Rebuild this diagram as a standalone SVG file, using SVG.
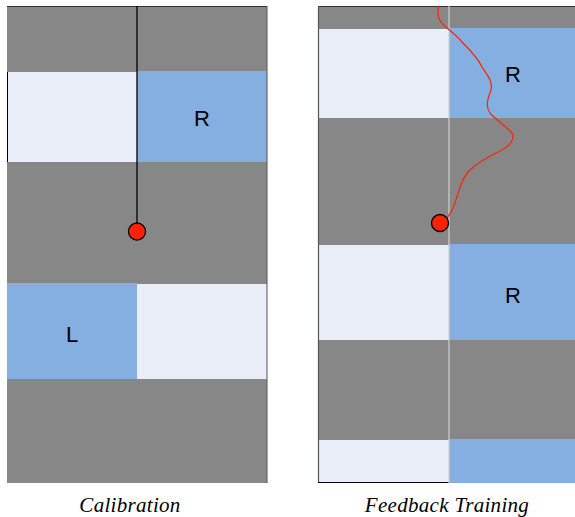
<svg xmlns="http://www.w3.org/2000/svg" width="575" height="517" viewBox="0 0 575 517">
  <style>
    .dark { fill: #878787; }
    .light { fill: #E9EEF8; }
    .blue { fill: #84AFE0; }
    .lbl { font-family: "Liberation Sans", Arial, sans-serif; font-size: 22px; fill: #000; text-anchor: middle; }
    .cap { font-family: "Liberation Serif", "Times New Roman", serif; font-style: italic; font-size: 21px; letter-spacing: 0.3px; fill: #000; text-anchor: middle; }
    .dot { fill: #FF2200; stroke: #000; stroke-width: 1.3; }
  </style>

  <!-- Calibration panel -->
  <g id="calibration">
    <rect class="dark" x="7" y="6" width="260" height="66"/>
    <rect class="light" x="7" y="72" width="130" height="90"/>
    <rect class="blue" x="137" y="71" width="130" height="91"/>
    <rect class="dark" x="7" y="162" width="260" height="122"/>
    <rect class="blue" x="7" y="283" width="130" height="96"/>
    <rect class="light" x="137" y="284" width="130" height="95"/>
    <rect class="dark" x="7" y="379" width="260" height="104"/>
    <line x1="7" y1="6.5" x2="267" y2="6.5" stroke="#333" stroke-width="1"/>
    <line x1="267" y1="6" x2="267" y2="483" stroke="#555" stroke-width="1"/>
    <line x1="7.5" y1="72" x2="7.5" y2="162" stroke="#000" stroke-width="1"/>
    <text class="lbl" x="202" y="126">R</text>
    <text class="lbl" x="72" y="342">L</text>
    <line x1="137" y1="6" x2="137" y2="231" stroke="#000" stroke-width="1.3"/>
    <circle class="dot" cx="137" cy="231.5" r="8.5"/>
    <text class="cap" x="130" y="512">Calibration</text>
  </g>

  <!-- Feedback training panel -->
  <g id="feedback">
    <rect class="dark" x="318" y="6" width="257" height="23"/>
    <rect class="light" x="318" y="29" width="131" height="89"/>
    <rect class="blue" x="449" y="28" width="126" height="90"/>
    <rect class="dark" x="318" y="118" width="257" height="127"/>
    <rect class="light" x="318" y="245" width="131" height="95"/>
    <rect class="blue" x="449" y="244" width="126" height="96"/>
    <rect class="dark" x="318" y="340" width="257" height="100"/>
    <rect class="light" x="318" y="440" width="131" height="42"/>
    <rect class="blue" x="449" y="439" width="126" height="44"/>
    <line x1="318" y1="6.5" x2="575" y2="6.5" stroke="#333" stroke-width="1"/>
    <line x1="318.5" y1="6" x2="318.5" y2="483" stroke="#555" stroke-width="1.2"/>
    <line x1="318" y1="482.5" x2="449" y2="482.5" stroke="#000" stroke-width="1"/>
    <line x1="449" y1="6" x2="449" y2="483" stroke="#D0D0D0" stroke-width="1.2"/>
    <text class="lbl" x="513" y="82">R</text>
    <text class="lbl" x="513" y="303">R</text>
    <path d="M439,6 C437,12 436,20 447,28 C452,32 458,37 463,43 C470,50 478,58 482,67 C488,76 493,82 491,90 C488,98 485,106 490,113 C496,120 506,126 512,133 C515,138 511,146 500,151 C490,156 478,162 470,170 C462,178 459,190 455,203 C452,212 449,217 442,223"
          fill="none" stroke="#FF2200" stroke-width="1.2"/>
    <circle class="dot" cx="440" cy="223" r="8.5"/>
    <text class="cap" x="447" y="512">Feedback Training</text>
  </g>
</svg>
